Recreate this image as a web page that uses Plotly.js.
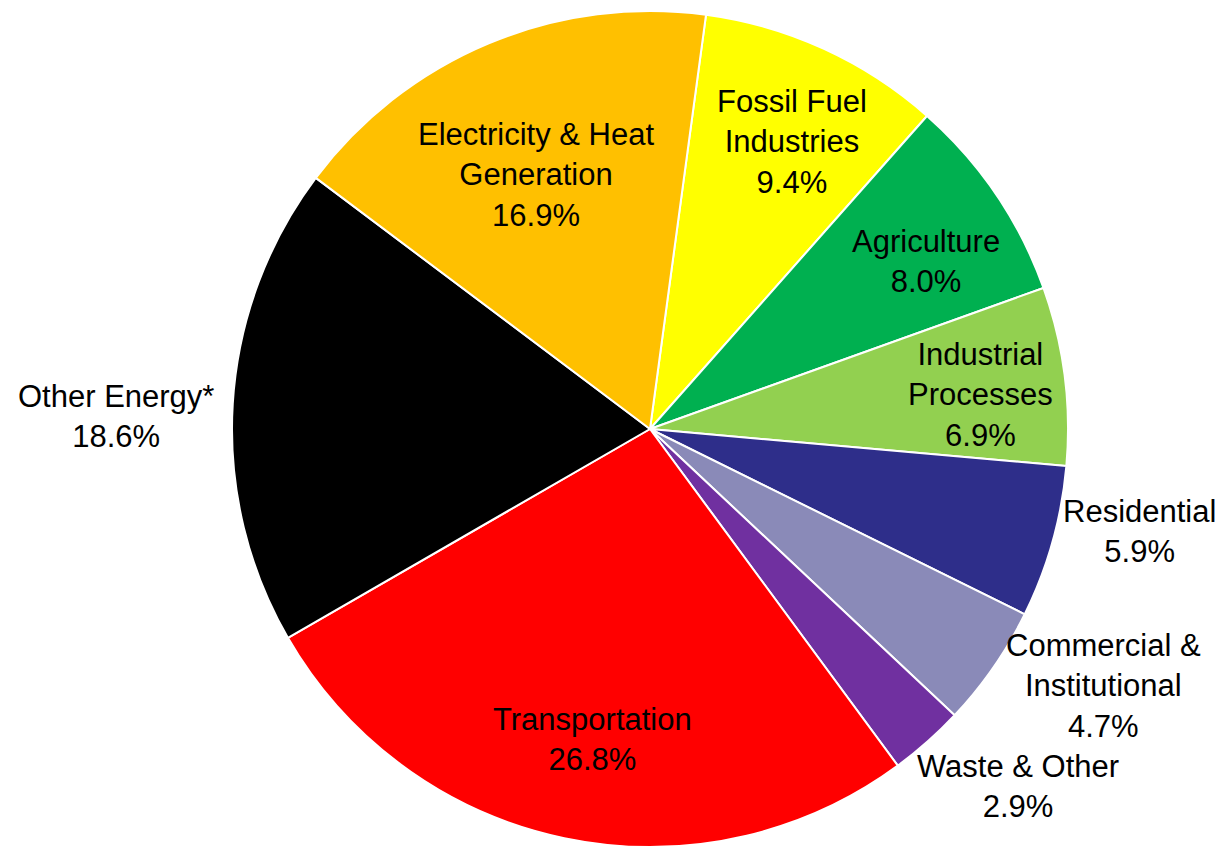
<!DOCTYPE html>
<html>
<head>
<meta charset="utf-8">
<script src="https://cdn.plot.ly/plotly-3.0.1.min.js"></script>
<style>
html,body{margin:0;padding:0;overflow:hidden;background:#fff;}
#chart{width:1224px;height:858px;}
</style>
</head>
<body>
<div id="chart"></div>
<script>
// ---- data ----
var categories = [
  "Fossil Fuel<br>Industries",
  "Agriculture",
  "Industrial<br>Processes",
  "Residential",
  "Commercial &<br>Institutional",
  "Waste & Other",
  "Transportation",
  "Other Energy*",
  "Electricity & Heat<br>Generation"
];
var shares = [9.4, 8.0, 6.9, 5.9, 4.7, 2.9, 26.8, 18.6, 16.9];
var sliceColors = ["#FFFF00", "#00B050", "#92D050", "#2E2E8A", "#8A8AB8", "#7030A0", "#FF0000", "#000000", "#FFC000"];

// ---- label placement (angle offset from slice middle in degrees, radius as fraction of pie radius) ----
var labelAngleOffset = [1.7, 2.9, 1.5, -3.9, -5.2, -4.2, -1.4, -2.1, -1.5];
var labelRadius = [0.766, 0.773, 0.794, 1.196, 1.247, 1.227, 0.755, 1.278, 0.667];

var W = 1224, H = 858;
var startRotation = 7.7;
var domX = [232 / W, 1068 / W];
var cx = (domX[0] + domX[1]) / 2 * W;
var R = Math.min((domX[1] - domX[0]) * W, H) / 2;
var cy = H / 2;

var total = shares.reduce(function (a, b) { return a + b; }, 0);
var annotations = [];
var cum = 0;
for (var i = 0; i < shares.length; i++) {
  var mid = startRotation + (cum + shares[i] / 2) / total * 360;
  cum += shares[i];
  var th = (mid + labelAngleOffset[i]) * Math.PI / 180;
  var px = cx + labelRadius[i] * R * Math.sin(th);
  var py = cy - labelRadius[i] * R * Math.cos(th);
  annotations.push({
    x: px / W, y: 1 - py / H, xref: "paper", yref: "paper",
    xanchor: "center", yanchor: "middle", showarrow: false, align: "center",
    text: categories[i] + "<br>" + shares[i].toFixed(1) + "%",
    font: {family: "Liberation Sans, Arial, sans-serif", size: 31, color: "#000000"}
  });
}

var trace = {
  type: "pie",
  labels: categories,
  values: shares,
  sort: false,
  direction: "clockwise",
  rotation: startRotation,
  textinfo: "none",
  hoverinfo: "skip",
  showlegend: false,
  domain: {x: domX, y: [0, 1]},
  marker: {colors: sliceColors, line: {color: "#FFFFFF", width: 2}}
};

var layout = {
  width: W, height: H,
  margin: {l: 0, r: 0, t: 0, b: 0},
  paper_bgcolor: "#FFFFFF",
  showlegend: false,
  annotations: annotations
};

Plotly.newPlot("chart", [trace], layout, {displayModeBar: false, staticPlot: true});
</script>
</body>
</html>
